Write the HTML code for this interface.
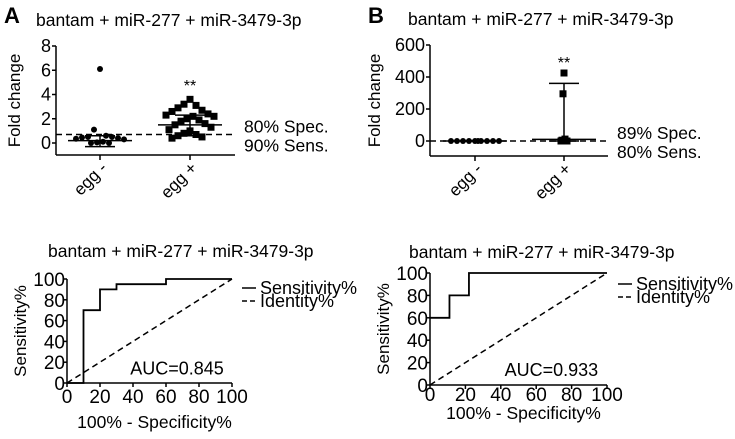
<!DOCTYPE html>
<html><head><meta charset="utf-8"><style>
body{margin:0;background:#fff}
svg text{font-family:"Liberation Sans",Arial,sans-serif;fill:#000}
</style></head><body>
<svg width="735" height="434" viewBox="0 0 735 434" xmlns="http://www.w3.org/2000/svg">
<g id="root"></g>
</svg>
<script>
// Panel A scatter data
const catsA = ["egg -","egg +"];
const negA = [6.1,1.1,0.6,0.5,0.5,0.45,0.4,0.35,0.3,0.1,0.05,0.0,0.0];
const posA = [3.6,3.2,3.1,2.9,2.7,2.6,2.4,2.3,2.2,2.2,2.0,1.9,1.8,1.6,1.5,1.3,1.1,1.0,0.8,0.7,0.6,0.5,0.4];
const statsA = [{mean:0.2,lo:-0.3,hi:0.6},{mean:1.5,lo:0.6,hi:2.3}];
const ticksA = [0,2,4,6,8];
// Panel B scatter data
const negB = [0,0,0,0,0,0,0,0,0,0];
const posB = [425,295,12,5,0,0,0];
const statsB = [{mean:0,lo:0,hi:0},{mean:10,lo:0,hi:360}];
const ticksB = [0,200,400,600];
// ROC data
const rocAx = [0,10,10,20,20,30,30,60,60,100];
const rocAy = [0,0,70,70,90,90,95,95,100,100];
const rocBx = [0,11,11,22,22,100];
const rocBy = [60,60,80,80,100,100];
const rocTicks = [0,20,40,60,80,100];

const NS="http://www.w3.org/2000/svg";
const root=document.getElementById('root');
const JIT=[0,-1,1,-2,2,-3,3,-4,4,0.5,-0.5,1.5,-1.5,2.5,-2.5,3.5,-3.5];
function el(tag,attrs,parent,text){const e=document.createElementNS(NS,tag);for(const k in attrs)e.setAttribute(k,attrs[k]);if(text!==undefined)e.textContent=text;(parent||root).appendChild(e);return e;}
function line(x1,y1,x2,y2,p,extra){return el('line',Object.assign({x1,y1,x2,y2,stroke:'#000','stroke-width':1.5},extra||{}),p);}

function scatter(o){
  const g=el('g',{});
  
  
  const y=v=>o.y0+(v-o.vmin)/(o.vmax-o.vmin)*(o.y1-o.y0);
  const xc=[o.c0,o.c1];
  line(o.ax,y(o.vmax),o.ax,o.yb,g);
  line(o.ax,o.yb,o.axEnd,o.yb,g);
  o.ticks.forEach(t=>{line(o.ax-4,y(t),o.ax,y(t),g);
    const tx=el('text',{x:o.ax-5,y:y(t)+6,'text-anchor':'end','font-size':18},g,String(t));
    });
  const yl=el('text',{x:0,y:0,'font-size':17,'text-anchor':'middle',transform:`translate(${o.ax-o.ylOff},${(y(o.vmax)+o.yb)/2}) rotate(-90)`},g,'Fold change');
  
  catsA.forEach((c,i)=>{line(xc[i],o.yb,xc[i],o.yb+5,g);
    const t=el('text',{x:0,y:0,'font-size':17,'text-anchor':'end',transform:`translate(${xc[i]+8},${o.yb+14}) rotate(-45)`},g,c);
    });
  const d=line(o.ax,y(o.cut),o.axEnd,y(o.cut),g,{'stroke-dasharray':'6,4'});
  
  const spread=(arr,cx,sq,w)=>{arr.forEach((v,i)=>{const dx=JIT[i%JIT.length]*w;
    let m; if(sq){m=el('rect',{x:cx+dx-3.5,y:y(v)-3.5,width:7,height:7,fill:'#000'},g);} else {m=el('circle',{cx:cx+dx,cy:y(v),r:3,fill:'#000'},g);}
    });};
  spread(o.neg,xc[0],false,o.wn);spread(o.pos,xc[1],true,o.wp);
  o.stats.forEach((s,i)=>{line(xc[i]-32,y(s.mean),xc[i]+32,y(s.mean),g);
    line(xc[i],y(s.lo),xc[i],y(s.hi),g);line(xc[i]-15,y(s.lo),xc[i]+15,y(s.lo),g);line(xc[i]-15,y(s.hi),xc[i]+15,y(s.hi),g);});
  const st=el('text',{x:xc[1],y:o.starY,'text-anchor':'middle','font-size':16},g,'**');
  
  const l1=el('text',{x:o.axEnd+9,y:y(o.cut)-2,'font-size':17.5},g,o.spec);
  
  const l2=el('text',{x:o.axEnd+9,y:y(o.cut)+17,'font-size':17.5},g,o.sens);
  
}
scatter({name:'scatter-a',ax:56,axEnd:235,y0:143,y1:46,vmin:0,vmax:8,yb:155,c0:100,c1:190,ticks:ticksA,neg:negA,pos:posA,stats:statsA,cut:0.7,starY:91,spec:'80% Spec.',sens:'90% Sens.',ylOff:36,wn:6,wp:6});
scatter({name:'scatter-b',ax:430,axEnd:608,y0:141,y1:45,vmin:0,vmax:600,yb:156,c0:475,c1:564,ticks:ticksB,neg:negB,pos:posB,stats:statsB,cut:0,starY:68,spec:'89% Spec.',sens:'80% Sens.',ylOff:50,wn:6,wp:1});

function roc(o){
  const g=el('g',{});
  
  
  const X=v=>o.x0+v/100*(o.x1-o.x0), Y=v=>o.y0+v/100*(o.y1-o.y0);
  line(o.x0,o.y1,o.x0,o.y0,g);line(o.x0,o.y0,o.x1,o.y0,g);
  rocTicks.forEach(t=>{line(o.x0-4,Y(t),o.x0,Y(t),g);line(X(t),o.y0,X(t),o.y0+4,g);
    const a=el('text',{x:o.x0-2,y:Y(t)+7,'text-anchor':'end','font-size':19},g,String(t));
    const b=el('text',{x:X(t),y:o.y0+o.tickOff,'text-anchor':'middle','font-size':19},g,String(t));});
  const d=line(X(0),Y(0),X(100),Y(100),g,{'stroke-dasharray':'6,4'});
  
  const p=el('polyline',{points:o.xs.map((v,i)=>X(v)+','+Y(o.ys[i])).join(' '),fill:'none',stroke:'#000','stroke-width':1.8},g);
  
  const tt=el('text',{x:o.tx,y:o.titleY,'font-size':17.5},g,'bantam + miR-277 + miR-3479-3p');
  
  const xl=el('text',{x:(o.x0+o.x1)/2+5,y:o.xlY,'text-anchor':'middle','font-size':17.5},g,'100% - Specificity%');
  
  const yl=el('text',{x:0,y:0,'font-size':17,'text-anchor':'middle',transform:`translate(${o.x0-41},${(o.y0+o.y1)/2}) rotate(-90)`},g,'Sensitivity%');
  
  const au=el('text',{x:X(95),y:Y(8),'text-anchor':'end','font-size':18},g,o.auc);
  
  line(o.lx,o.ly,o.lx+14,o.ly,g);
  const s1=el('text',{x:o.lx+18,y:o.ly+6,'font-size':18},g,'Sensitivity%');
  line(o.lx,o.ly+13,o.lx+14,o.ly+13,g,{'stroke-dasharray':'5,3'});
  const s2=el('text',{x:o.lx+18,y:o.ly+19,'font-size':18},g,'Identity%');
}
roc({name:'roc-a',x0:67,x1:232,y0:383,y1:279,xs:rocAx,ys:rocAy,auc:'AUC=0.845',tx:48,titleY:257,xlY:428,tickOff:20,lx:242,ly:288});
roc({name:'roc-b',x0:430,x1:607,y0:385,y1:273,xs:rocBx,ys:rocBy,auc:'AUC=0.933',tx:409,titleY:258,xlY:419,tickOff:16,lx:618,ly:284});

const A=el('text',{x:4,y:23,'font-size':22,'font-weight':'bold'},root,'A');

const B=el('text',{x:368,y:23,'font-size':22,'font-weight':'bold'},root,'B');

const t1=el('text',{x:36,y:26,'font-size':17.5},root,'bantam + miR-277 + miR-3479-3p');

const t2=el('text',{x:408,y:25,'font-size':17.5},root,'bantam + miR-277 + miR-3479-3p');

</script>
</body></html>
